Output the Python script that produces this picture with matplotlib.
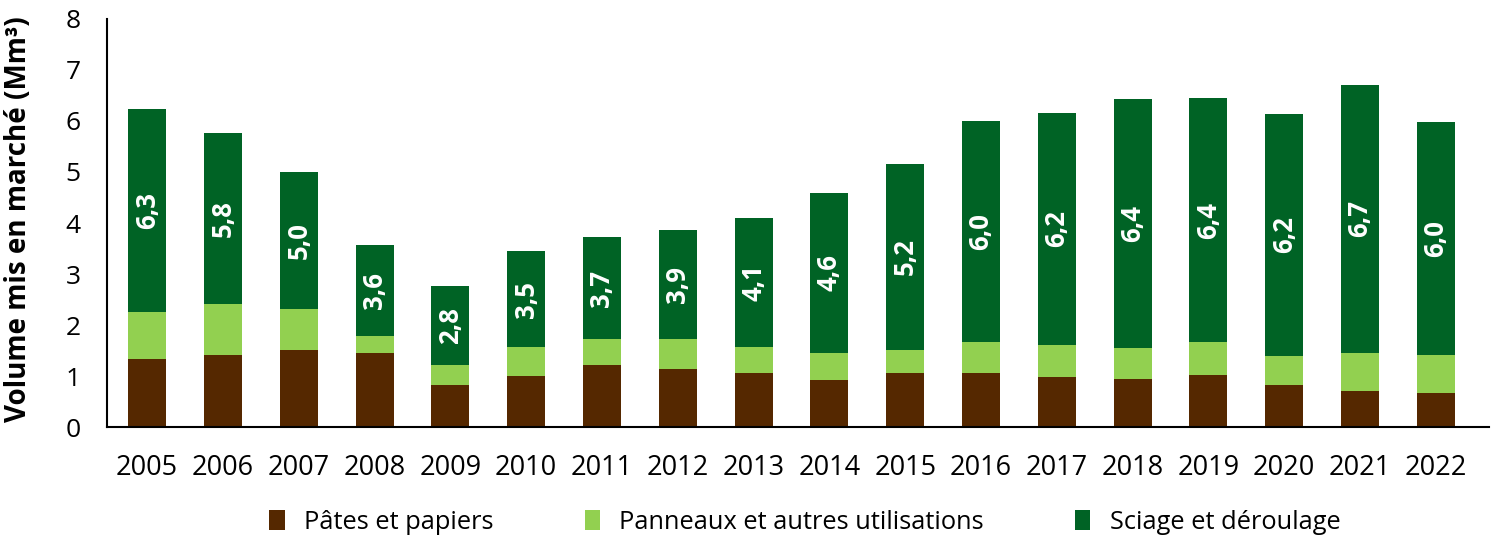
import matplotlib
matplotlib.use("Agg")
import matplotlib.pyplot as plt
import numpy as np

plt.rcParams['font.family'] = ['Open Sans', 'DejaVu Sans']

annees = ['2005', '2006', '2007', '2008', '2009', '2010', '2011', '2012', '2013',
          '2014', '2015', '2016', '2017', '2018', '2019', '2020', '2021', '2022']
# volumes en Mm3
pates = [1.33, 1.41, 1.52, 1.46, 0.83, 1.00, 1.22, 1.13, 1.07,
         0.92, 1.07, 1.07, 0.99, 0.94, 1.02, 0.82, 0.71, 0.66]
panneaux = [0.92, 1.01, 0.79, 0.32, 0.39, 0.57, 0.50, 0.59, 0.50,
            0.54, 0.45, 0.59, 0.62, 0.62, 0.64, 0.57, 0.75, 0.75]
sciage = [3.99, 3.35, 2.68, 1.78, 1.55, 1.88, 2.01, 2.15, 2.52,
          3.13, 3.63, 4.33, 4.55, 4.86, 4.78, 4.75, 5.24, 4.56]
etiquettes = ['6,3', '5,8', '5,0', '3,6', '2,8', '3,5', '3,7', '3,9', '4,1',
              '4,6', '5,2', '6,0', '6,2', '6,4', '6,4', '6,2', '6,7', '6,0']

c_brun = '#552800'
c_clair = '#92D050'
c_fonce = '#006325'

fig = plt.figure(figsize=(14.94, 5.38), dpi=100)
ax = fig.add_axes([0.0716, 0.206, 0.925, 0.759])

x = np.arange(len(annees))
p = np.array(pates)
pa = np.array(panneaux)
s = np.array(sciage)

ax.bar(x, p, width=0.5, color=c_brun, label='Pâtes et papiers')
ax.bar(x, pa, width=0.5, bottom=p, color=c_clair, label='Panneaux et autres utilisations')
ax.bar(x, s, width=0.5, bottom=p + pa, color=c_fonce, label='Sciage et déroulage')

for i in range(len(x)):
    ax.text(x[i], p[i] + pa[i] + s[i] / 2, etiquettes[i], rotation=90,
            ha='center', va='center', color='white', fontsize=18.5, fontweight='bold')

ax.set_xlim(-0.53, 17.7)
ax.set_ylim(0, 8)
ax.set_xticks(x)
ax.set_xticklabels(annees, fontsize=19.5)
ax.set_yticks(range(0, 9))
ax.tick_params(axis='y', labelsize=19, length=0, pad=19)
ax.tick_params(axis='x', length=0, pad=19)
ax.spines['top'].set_visible(False)
ax.spines['right'].set_visible(False)
ax.spines['left'].set_linewidth(1.5)
ax.spines['bottom'].set_linewidth(1.5)
ax.set_ylabel('Volume mis en marché (Mm³)', fontsize=20, fontweight='bold')
ax.yaxis.set_label_coords(-0.0535, 0.51)

ax.legend(loc='center', bbox_to_anchor=(0.505, -0.233), ncol=3, frameon=False,
          fontsize=18.3, handlelength=0.6, handleheight=0.8, handletextpad=0.75,
          columnspacing=3.6)

plt.savefig('out.png', dpi=100)
plt.close()
